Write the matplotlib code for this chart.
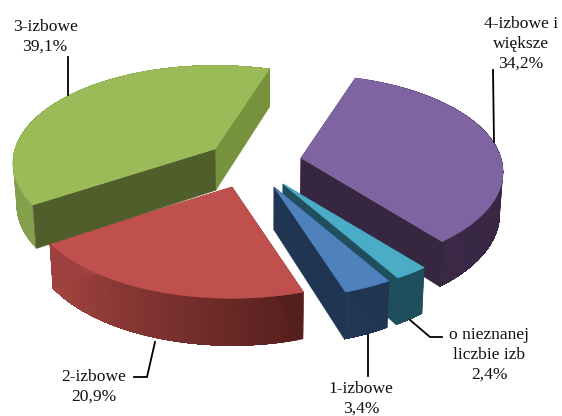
import numpy as np
import matplotlib
matplotlib.use('Agg')
import matplotlib.pyplot as plt
from matplotlib.patches import Polygon

labels = ['4-izbowe i\nwiększe\n34,2%', 'o nieznanej\nliczbie izb\n2,4%', '1-izbowe\n3,4%', '2-izbowe\n20,9%', '3-izbowe\n39,1%']
values = [34.2, 2.4, 3.4, 20.9, 39.1]

# slice apex on the picture, in pixels (each slice is pulled out by hand)
apex = [(301, 158), (283, 184), (274, 187), (232, 187), (215, 149)]
top_col = ['#8064a2', '#4bacc6', '#4f81bd', '#c0504d', '#9bbb59']
start_face_col = ['#37263f', '#1f4e5c', '#1f3552', '#551f1d', '#4f5e2b']
end_face_col = ['#37263f', '#1f4e5c', '#1f3552', '#9e403e', '#76923c']
rim_from = [(52, 36, 62), (31, 78, 92), (31, 53, 82), (84, 31, 29), (132, 160, 76)]
rim_to = [(58, 40, 70), (31, 78, 92), (33, 56, 86), (168, 70, 66), (126, 154, 72)]

start_angle = 18
R = 200
B = 95.5
K = 0.142


def project(ang, ax0, ay0):
    t = np.radians(ang)
    s = 1 + K * np.cos(t)
    return ax0 + R * np.sin(t) / s, ay0 - B * np.cos(t) / s


def lower(x, y):
    # bottom of the extruded pie, grows toward the viewer
    depth = 38 + (y - 70) * 0.041
    return x - (x - 270) * 0.014, y + depth


fig = plt.figure(figsize=(5.62, 4.16), dpi=100)
ax = fig.add_axes([0, 0, 1, 1])
ax.set_xlim(0, 562)
ax.set_ylim(416, 0)
ax.axis('off')

spans = np.array(values) / sum(values) * 360
starts = start_angle + np.concatenate([[0], np.cumsum(spans)[:-1]])

# back to front
for i in [4, 0, 1, 2, 3]:
    ang = np.linspace(starts[i], starts[i] + spans[i], 90)
    ax0, ay0 = apex[i]
    xs, ys = project(ang, ax0, ay0)
    xb, yb = lower(xs, ys)
    cx, cy = lower(np.array([float(ax0)]), np.array([float(ay0)]))

    # outer rim, strips so it can carry the gradient. each strip runs to the
    # end of the arc and the next one paints over it, that way no seams show
    for j in range(len(ang) - 1):
        f = j / (len(ang) - 2)
        c = [(rim_from[i][k] * (1 - f) + rim_to[i][k] * f) / 255 for k in range(3)]
        pts = list(zip(xs[j:], ys[j:])) + list(zip(xb[j:][::-1], yb[j:][::-1]))
        ax.add_patch(Polygon(pts, fc=c, ec='none', zorder=i + 1))

    ax.add_patch(Polygon([(ax0, ay0), (xs[-1], ys[-1]), (xb[-1], yb[-1]), (cx[0], cy[0])],
                         fc=end_face_col[i], ec=end_face_col[i], lw=0.4, zorder=i + 1))
    ax.add_patch(Polygon([(ax0, ay0), (xs[0], ys[0]), (xb[0], yb[0]), (cx[0], cy[0])],
                         fc=start_face_col[i], ec=start_face_col[i], lw=0.4, zorder=i + 1))
    ax.add_patch(Polygon(np.column_stack([np.r_[ax0, xs], np.r_[ay0, ys]]),
                         fc=top_col[i], ec=top_col[i], lw=0.4, zorder=i + 1))

# leader lines
leaders = [([493, 494], [70, 142]),
           ([410, 430, 442], [320, 337, 337]),
           ([368, 368], [335, 376]),
           ([155, 147, 134], [342, 377, 377]),
           ([68, 68], [57, 95])]
for lx, ly in leaders:
    ax.plot(lx, ly, color='black', lw=1.3, solid_joinstyle='miter', zorder=10)

label_pos = [(521, 44), (489, 355), (361, 399), (94, 387), (45, 37)]
for txt, (px, py) in zip(labels, label_pos):
    ax.text(px, py, txt, ha='center', va='center', family='Liberation Serif',
            fontsize=12.6, linespacing=1.32, color='#111111', zorder=11)

plt.savefig('out.png', dpi=100)
